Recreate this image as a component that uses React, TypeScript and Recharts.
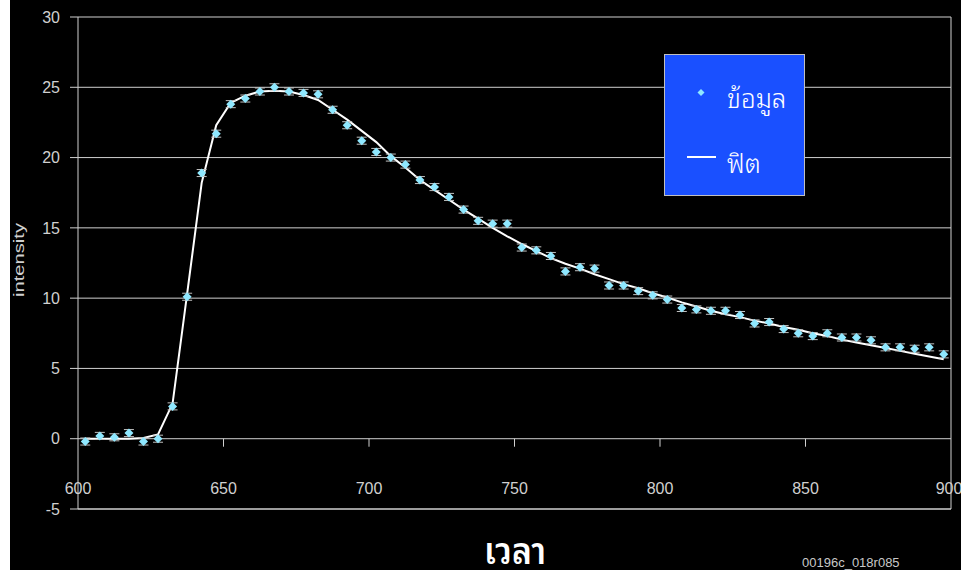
import React from 'react';
import { ComposedChart, Line, Scatter, ErrorBar, XAxis, YAxis, CartesianGrid, ReferenceLine, Legend } from 'recharts';

const times = [
  602.5, 607.5, 612.5, 617.5, 622.5, 627.5, 632.5, 637.5, 642.5, 647.5,
  652.5, 657.5, 662.5, 667.5, 672.5, 677.5, 682.5, 687.5, 692.5, 697.5,
  702.5, 707.5, 712.5, 717.5, 722.5, 727.5, 732.5, 737.5, 742.5, 747.5,
  752.5, 757.5, 762.5, 767.5, 772.5, 777.5, 782.5, 787.5, 792.5, 797.5,
  802.5, 807.5, 812.5, 817.5, 822.5, 827.5, 832.5, 837.5, 842.5, 847.5,
  852.5, 857.5, 862.5, 867.5, 872.5, 877.5, 882.5, 887.5, 892.5, 897.5,
];

const observed = [
  -0.2, 0.2, 0.1, 0.4, -0.2, 0.0, 2.3, 10.1, 18.9, 21.7,
  23.8, 24.2, 24.7, 25.0, 24.7, 24.6, 24.5, 23.4, 22.3, 21.2,
  20.4, 20.0, 19.5, 18.4, 17.9, 17.2, 16.3, 15.5, 15.3, 15.3,
  13.6, 13.4, 13.0, 11.9, 12.2, 12.1, 10.9, 10.9, 10.5, 10.2,
  9.9, 9.3, 9.2, 9.1, 9.1, 8.8, 8.2, 8.3, 7.8, 7.5,
  7.3, 7.5, 7.2, 7.2, 7.0, 6.5, 6.5, 6.4, 6.5, 6.0,
];

const fitted = [
  0.0, 0.0, 0.0, 0.0, 0.05, 0.3, 2.5, 10.3, 18.2, 22.3,
  23.9, 24.4, 24.7, 24.75, 24.7, 24.45, 24.1, 23.4, 22.7, 21.9,
  21.1, 20.1, 19.3, 18.4, 17.7, 17.0, 16.3, 15.65, 15.0, 14.4,
  13.85, 13.35, 12.85, 12.45, 12.1, 11.7, 11.35, 11.0, 10.7, 10.35,
  10.05, 9.7, 9.4, 9.1, 8.85, 8.65, 8.4, 8.2, 7.95, 7.75,
  7.5, 7.3, 7.05, 6.85, 6.65, 6.45, 6.25, 6.05, 5.85, 5.65,
];

const errors = [
  0.25, 0.25, 0.25, 0.25, 0.25, 0.25, 0.25, 0.25, 0.25, 0.25,
  0.25, 0.25, 0.25, 0.25, 0.25, 0.25, 0.25, 0.25, 0.25, 0.25,
  0.25, 0.25, 0.25, 0.25, 0.25, 0.25, 0.25, 0.25, 0.25, 0.25,
  0.25, 0.25, 0.25, 0.25, 0.25, 0.25, 0.25, 0.25, 0.25, 0.25,
  0.25, 0.25, 0.25, 0.25, 0.25, 0.25, 0.25, 0.25, 0.25, 0.25,
  0.25, 0.25, 0.25, 0.25, 0.25, 0.25, 0.25, 0.25, 0.25, 0.25,
];

const xTicks = [600, 650, 700, 750, 800, 850, 900];
const yTicks = [-5, 0, 5, 10, 15, 20, 25, 30];

const rows = times.map((t, i) => ({ t, obs: observed[i], fit: fitted[i], err: errors[i] }));

const W = 951;
const H = 570;
const margin = { top: 17, right: 10, bottom: 60, left: 10 };
const plotH = H - margin.top - margin.bottom - 1;
const zeroOffset = (plotH * 5) / 35;

const AXIS = '#d0d0d0';
const DOT = '#8fe8ff';
const LATIN = '"Liberation Sans", Arial, sans-serif';
const THAI = '"Noto Sans Thai Looped", "Noto Sans Thai", "Loma", "Garuda", "Noto Sans", sans-serif';

// x labels sit between the 0 and -5 gridlines, tick marks hang off the zero line
const XTick = (props: any) => {
  const { x, y, payload } = props;
  const inner = payload.value > 600 && payload.value < 900;
  return (
    <g>
      {inner && <line x1={x} x2={x} y1={y - zeroOffset} y2={y - zeroOffset + 8} stroke={AXIS} />}
      <text x={x} y={y - 21} dy="0.355em" textAnchor="middle" fill={AXIS} fontSize={16} fontFamily={LATIN}>
        {payload.value}
      </text>
    </g>
  );
};

const Diamond = (p: any) => {
  const { cx, cy } = p;
  const r = 4.5;
  return <polygon points={`${cx},${cy - r} ${cx + r},${cy} ${cx},${cy + r} ${cx - r},${cy}`} fill={DOT} />;
};

const LegendBox = () => (
  <svg width={141} height={142} style={{ display: 'block' }}>
    <rect x={0.5} y={0.5} width={140} height={141} fill="#1a50ff" stroke="#c0c0c0" />
    <polygon points="37,35 40.5,38.5 37,42 33.5,38.5" fill={DOT} />
    <text x={63} y={54} fill="#fff" fontSize={26} fontWeight={300} fontFamily={THAI}>ข้อมูล</text>
    <line x1={23} x2={52} y1={103} y2={103} stroke="#fff" strokeWidth={2} />
    <text x={63} y={119} fill="#fff" fontSize={26} fontWeight={300} fontFamily={THAI}>ฟิต</text>
  </svg>
);

export default function App() {
  return (
    <div style={{ position: 'absolute', left: 0, top: 0, width: 961, height: 570, background: '#fff' }}>
      <div style={{ position: 'absolute', left: 10, top: 0, width: W, height: H, background: '#000' }}>
        <ComposedChart width={W} height={H} data={rows} margin={margin}>
          <CartesianGrid vertical={false} stroke={AXIS} />
          <XAxis
            dataKey="t"
            type="number"
            domain={[600, 900]}
            ticks={xTicks}
            allowDataOverflow
            height={1}
            tickSize={0}
            tickMargin={0}
            tickLine={false}
            tick={<XTick />}
            stroke={AXIS}
          />
          <YAxis
            type="number"
            domain={[-5, 30]}
            ticks={yTicks}
            width={58}
            tickSize={8}
            tickMargin={10}
            stroke={AXIS}
            tick={{ fill: AXIS, fontSize: 16, fontFamily: LATIN }}
          />
          <ReferenceLine x={900} stroke={AXIS} />
          <Line dataKey="fit" type="linear" stroke="#fff" strokeWidth={2} dot={false} isAnimationActive={false} />
          <Scatter dataKey="obs" shape={<Diamond />} isAnimationActive={false}>
            <ErrorBar dataKey="err" direction="y" width={5} stroke="#c0c0c0" strokeWidth={1} />
          </Scatter>
          <Legend
            layout="vertical"
            align="center"
            verticalAlign="middle"
            width={141}
            height={142}
            wrapperStyle={{ top: 54, left: 654, width: 141, height: 142 }}
            content={<LegendBox />}
          />
          <text
            x={9}
            y={260}
            dy="0.35em"
            transform="rotate(-90 9 260)"
            textAnchor="middle"
            fill={AXIS}
            fontSize={14}
            textLength={74}
            lengthAdjust="spacingAndGlyphs"
            fontFamily={LATIN}
          >
            intensity
          </text>
          <text
            x={505}
            y={564}
            textAnchor="middle"
            fill="#fff"
            fontSize={36}
            fontWeight={600}
            textLength={62}
            lengthAdjust="spacingAndGlyphs"
            fontFamily={THAI}
          >
            เวลา
          </text>
          <text x={792} y={567} fill="#c8c8c8" fontSize={13} fontFamily={LATIN}>
            00196c_018r085
          </text>
        </ComposedChart>
      </div>
    </div>
  );
}
